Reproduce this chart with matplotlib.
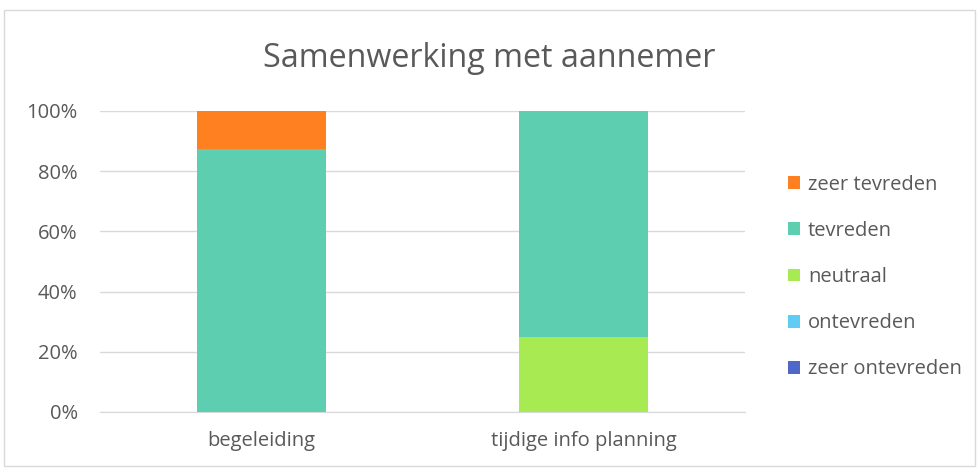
import matplotlib.pyplot as plt
from matplotlib.patches import Patch, Rectangle
from matplotlib.ticker import PercentFormatter
import numpy as np

categories = ['begeleiding', 'tijdige info planning']
series = ['zeer ontevreden', 'ontevreden', 'neutraal', 'tevreden', 'zeer tevreden']
values = {
    'zeer ontevreden': [0.0, 0.0],
    'ontevreden': [0.0, 0.0],
    'neutraal': [0.0, 0.25],
    'tevreden': [0.875, 0.75],
    'zeer tevreden': [0.125, 0.0],
}
colors = {
    'zeer ontevreden': '#4E67C8',
    'ontevreden': '#5ECCF3',
    'neutraal': '#A7EA52',
    'tevreden': '#5DCEAF',
    'zeer tevreden': '#FF8021',
}

plt.rcParams['font.family'] = ['Open Sans', 'DejaVu Sans']
txt = '#595959'

fig = plt.figure(figsize=(9.79, 4.68), dpi=100)
ax = fig.add_axes([0.102, 0.1197, 0.659, 0.6433])

x = np.arange(len(categories))
bottom = np.zeros(len(categories))
for s in series:
    v = np.array(values[s])
    ax.bar(x, v, 0.4, bottom=bottom, color=colors[s], zorder=3)
    bottom += v

ax.set_xlim(-0.5, 1.5)
ax.set_ylim(0, 1)
ax.set_yticks(np.arange(0, 1.01, 0.2))
ax.yaxis.set_major_formatter(PercentFormatter(1.0, decimals=0))
ax.set_xticks(x)
ax.set_xticklabels(categories)
ax.grid(axis='y', color='#d9d9d9', linewidth=1, zorder=0)
for sp in ['top', 'right', 'left']:
    ax.spines[sp].set_visible(False)
ax.spines['bottom'].set_color('#d9d9d9')
ax.tick_params(axis='both', length=0, labelsize=14.5, colors=txt)
ax.tick_params(axis='x', pad=14)
ax.tick_params(axis='y', pad=16)

fig.text(0.5, 0.876, 'Samenwerking met aannemer', ha='center', va='center',
         fontsize=23.2, color=txt)

handles = [Patch(facecolor=colors[s], label=s) for s in reversed(series)]
fig.legend(handles=handles, loc='center left', bbox_to_anchor=(0.786, 0.408),
           frameon=False, fontsize=14.5, labelcolor=txt, handlelength=0.6,
           handleheight=0.6, handletextpad=0.4, labelspacing=1.3)

fig.patches.append(Rectangle((0.004, 0.004), 0.992, 0.975, transform=fig.transFigure,
                             fill=False, edgecolor='#d9d9d9', linewidth=1))

fig.savefig('out.png', dpi=100)
